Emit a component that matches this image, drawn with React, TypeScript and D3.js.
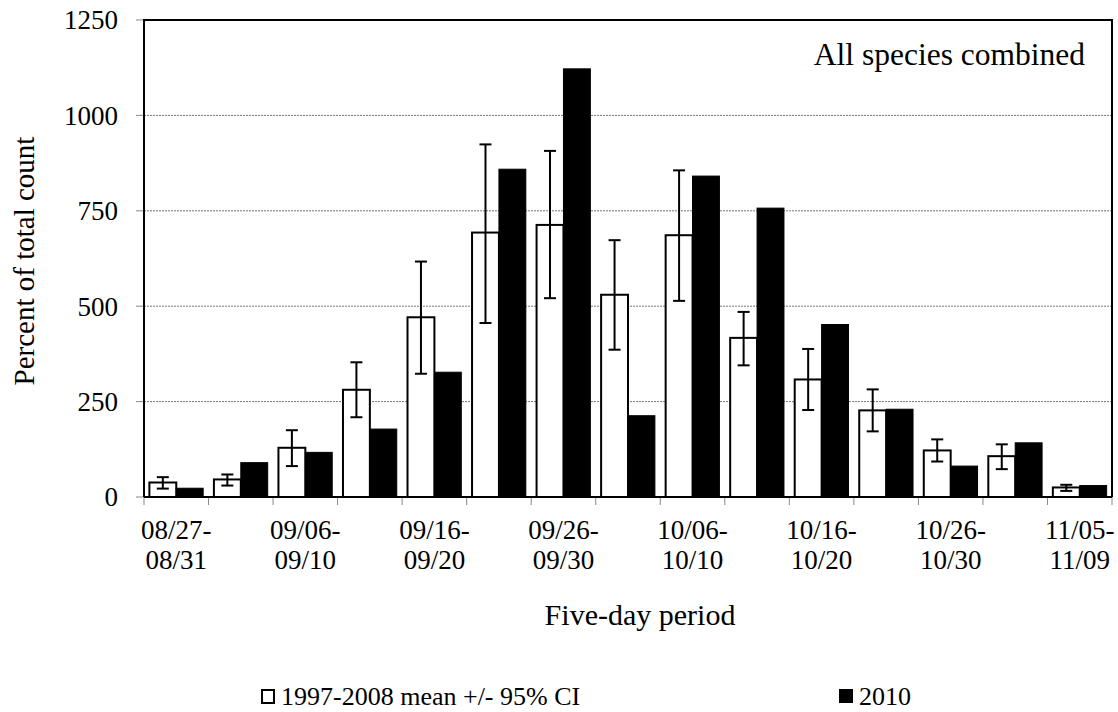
import React from "react"
import * as d3 from "d3"

const W = 1118
const H = 712
const M = { left: 144, right: 6, top: 20, bottom: 215 }

// five-day periods, start-end
const periods = [
  "08/27-08/31", "09/01-09/05", "09/06-09/10", "09/11-09/15", "09/16-09/20",
  "09/21-09/25", "09/26-09/30", "10/01-10/05", "10/06-10/10", "10/11-10/15",
  "10/16-10/20", "10/21-10/25", "10/26-10/30", "10/31-11/04", "11/05-11/09",
]
const meanValues = [38, 46, 129, 281, 471, 693, 713, 530, 686, 417, 308, 227, 122, 107, 25]
const ciLow = [22, 30, 81, 209, 323, 456, 521, 386, 514, 345, 228, 172, 93, 73, 16]
const ciHigh = [52, 59, 175, 353, 617, 924, 907, 673, 856, 485, 388, 282, 151, 138, 32]
const values2010 = [23, 90, 117, 178, 327, 859, 1122, 213, 841, 757, 452, 230, 81, 142, 30]
const yTicks = [0, 250, 500, 750, 1000, 1250]
const seriesKeys = ["mean", "y2010"]

const FONT = "Liberation Serif"

export default function App() {
  const innerW = W - M.left - M.right
  const innerH = H - M.top - M.bottom
  const x0 = M.left
  const x1 = M.left + innerW
  const yBottom = M.top + innerH

  const x = d3.scaleBand().domain(periods).range([x0, x1]).paddingInner(0).paddingOuter(0)
  const xs = d3
    .scaleBand()
    .domain(seriesKeys)
    .range([0, x.bandwidth()])
    .paddingInner(0)
    .paddingOuter(0.2)
  const y = d3.scaleLinear().domain([0, 1250]).range([yBottom, M.top])

  const boundaries = periods.map(p => x(p)!).concat([x1])
  const capHalf = 6

  return (
    <svg width={W} height={H} style={{ display: "block", position: "absolute", left: 0, top: 0 }}>
      <rect width={W} height={H} fill="#fff" />

      {/* gridlines */}
      {yTicks.slice(1, -1).map(t => (
        <line key={"g" + t} x1={x0} x2={x1} y1={y(t)} y2={y(t)} stroke="#777" strokeWidth={1} strokeDasharray="2,1" />
      ))}

      {/* y axis ticks and labels */}
      {yTicks.map(t => (
        <g key={"yt" + t}>
          <line x1={x0 - 8} x2={x0} y1={y(t)} y2={y(t)} stroke="#888" strokeWidth={1} />
          <text x={118} y={y(t)} dy="0.35em" textAnchor="end" fontSize={27} fill="#000" fontFamily={FONT}>
            {t}
          </text>
        </g>
      ))}

      {/* x ticks at period boundaries */}
      {boundaries.map((b, i) => (
        <line key={"xt" + i} x1={b} x2={b} y1={yBottom} y2={yBottom + 8} stroke="#888" strokeWidth={1} />
      ))}

      {/* every other period is labelled, on two lines */}
      {periods.map((p, i) => {
        if (i % 2 !== 0) return null
        const [a, b] = p.split("-")
        const cx = x(p)! + x.bandwidth() / 2
        return (
          <text key={"xl" + p} x={cx} textAnchor="middle" fontSize={27} fill="#000" fontFamily={FONT}>
            <tspan x={cx} y={539}>{a + "-"}</tspan>
            <tspan x={cx} y={569}>{b}</tspan>
          </text>
        )
      })}

      {/* bars + CI whiskers */}
      {periods.map((p, i) => {
        const bx = x(p)!
        const wx = bx + xs("mean")!
        const kx = bx + xs("y2010")!
        const bw = xs.bandwidth()
        const cx = wx + bw / 2
        return (
          <g key={"b" + p}>
            <rect x={wx} y={y(meanValues[i])} width={bw} height={yBottom - y(meanValues[i])} fill="#fff" stroke="#000" strokeWidth={2} />
            <rect x={kx} y={y(values2010[i])} width={bw} height={yBottom - y(values2010[i])} fill="#000" stroke="#000" strokeWidth={1} />
            <line x1={cx} x2={cx} y1={y(ciLow[i])} y2={y(ciHigh[i])} stroke="#000" strokeWidth={2} />
            <line x1={cx - capHalf} x2={cx + capHalf} y1={y(ciLow[i])} y2={y(ciLow[i])} stroke="#000" strokeWidth={2} />
            <line x1={cx - capHalf} x2={cx + capHalf} y1={y(ciHigh[i])} y2={y(ciHigh[i])} stroke="#000" strokeWidth={2} />
          </g>
        )
      })}

      {/* plot frame */}
      <path d={`M${x0},${yBottom} L${x0},${M.top} L${x1},${M.top} L${x1},${yBottom}`} fill="none" stroke="#000" strokeWidth={2} />
      <line x1={x0} x2={x1} y1={yBottom} y2={yBottom} stroke="#000" strokeWidth={2} />

      <text x={1085} y={65} textAnchor="end" fontSize={31.5} fill="#000" fontFamily={FONT}>
        All species combined
      </text>

      <text transform="translate(34,261) rotate(-90)" textAnchor="middle" fontSize={29} fill="#000" fontFamily={FONT}>
        Percent of total count
      </text>
      <text x={640} y={625} textAnchor="middle" fontSize={30} fill="#000" fontFamily={FONT}>
        Five-day period
      </text>

      {/* legend */}
      <rect x={262} y={690} width={12} height={13} fill="#fff" stroke="#000" strokeWidth={2} />
      <text x={281} y={705} fontSize={26} fill="#000" fontFamily={FONT}>
        1997-2008 mean +/- 95% CI
      </text>
      <rect x={839} y={689} width={14} height={14} fill="#000" />
      <text x={859} y={705} fontSize={26} fill="#000" fontFamily={FONT}>
        2010
      </text>
    </svg>
  )
}
